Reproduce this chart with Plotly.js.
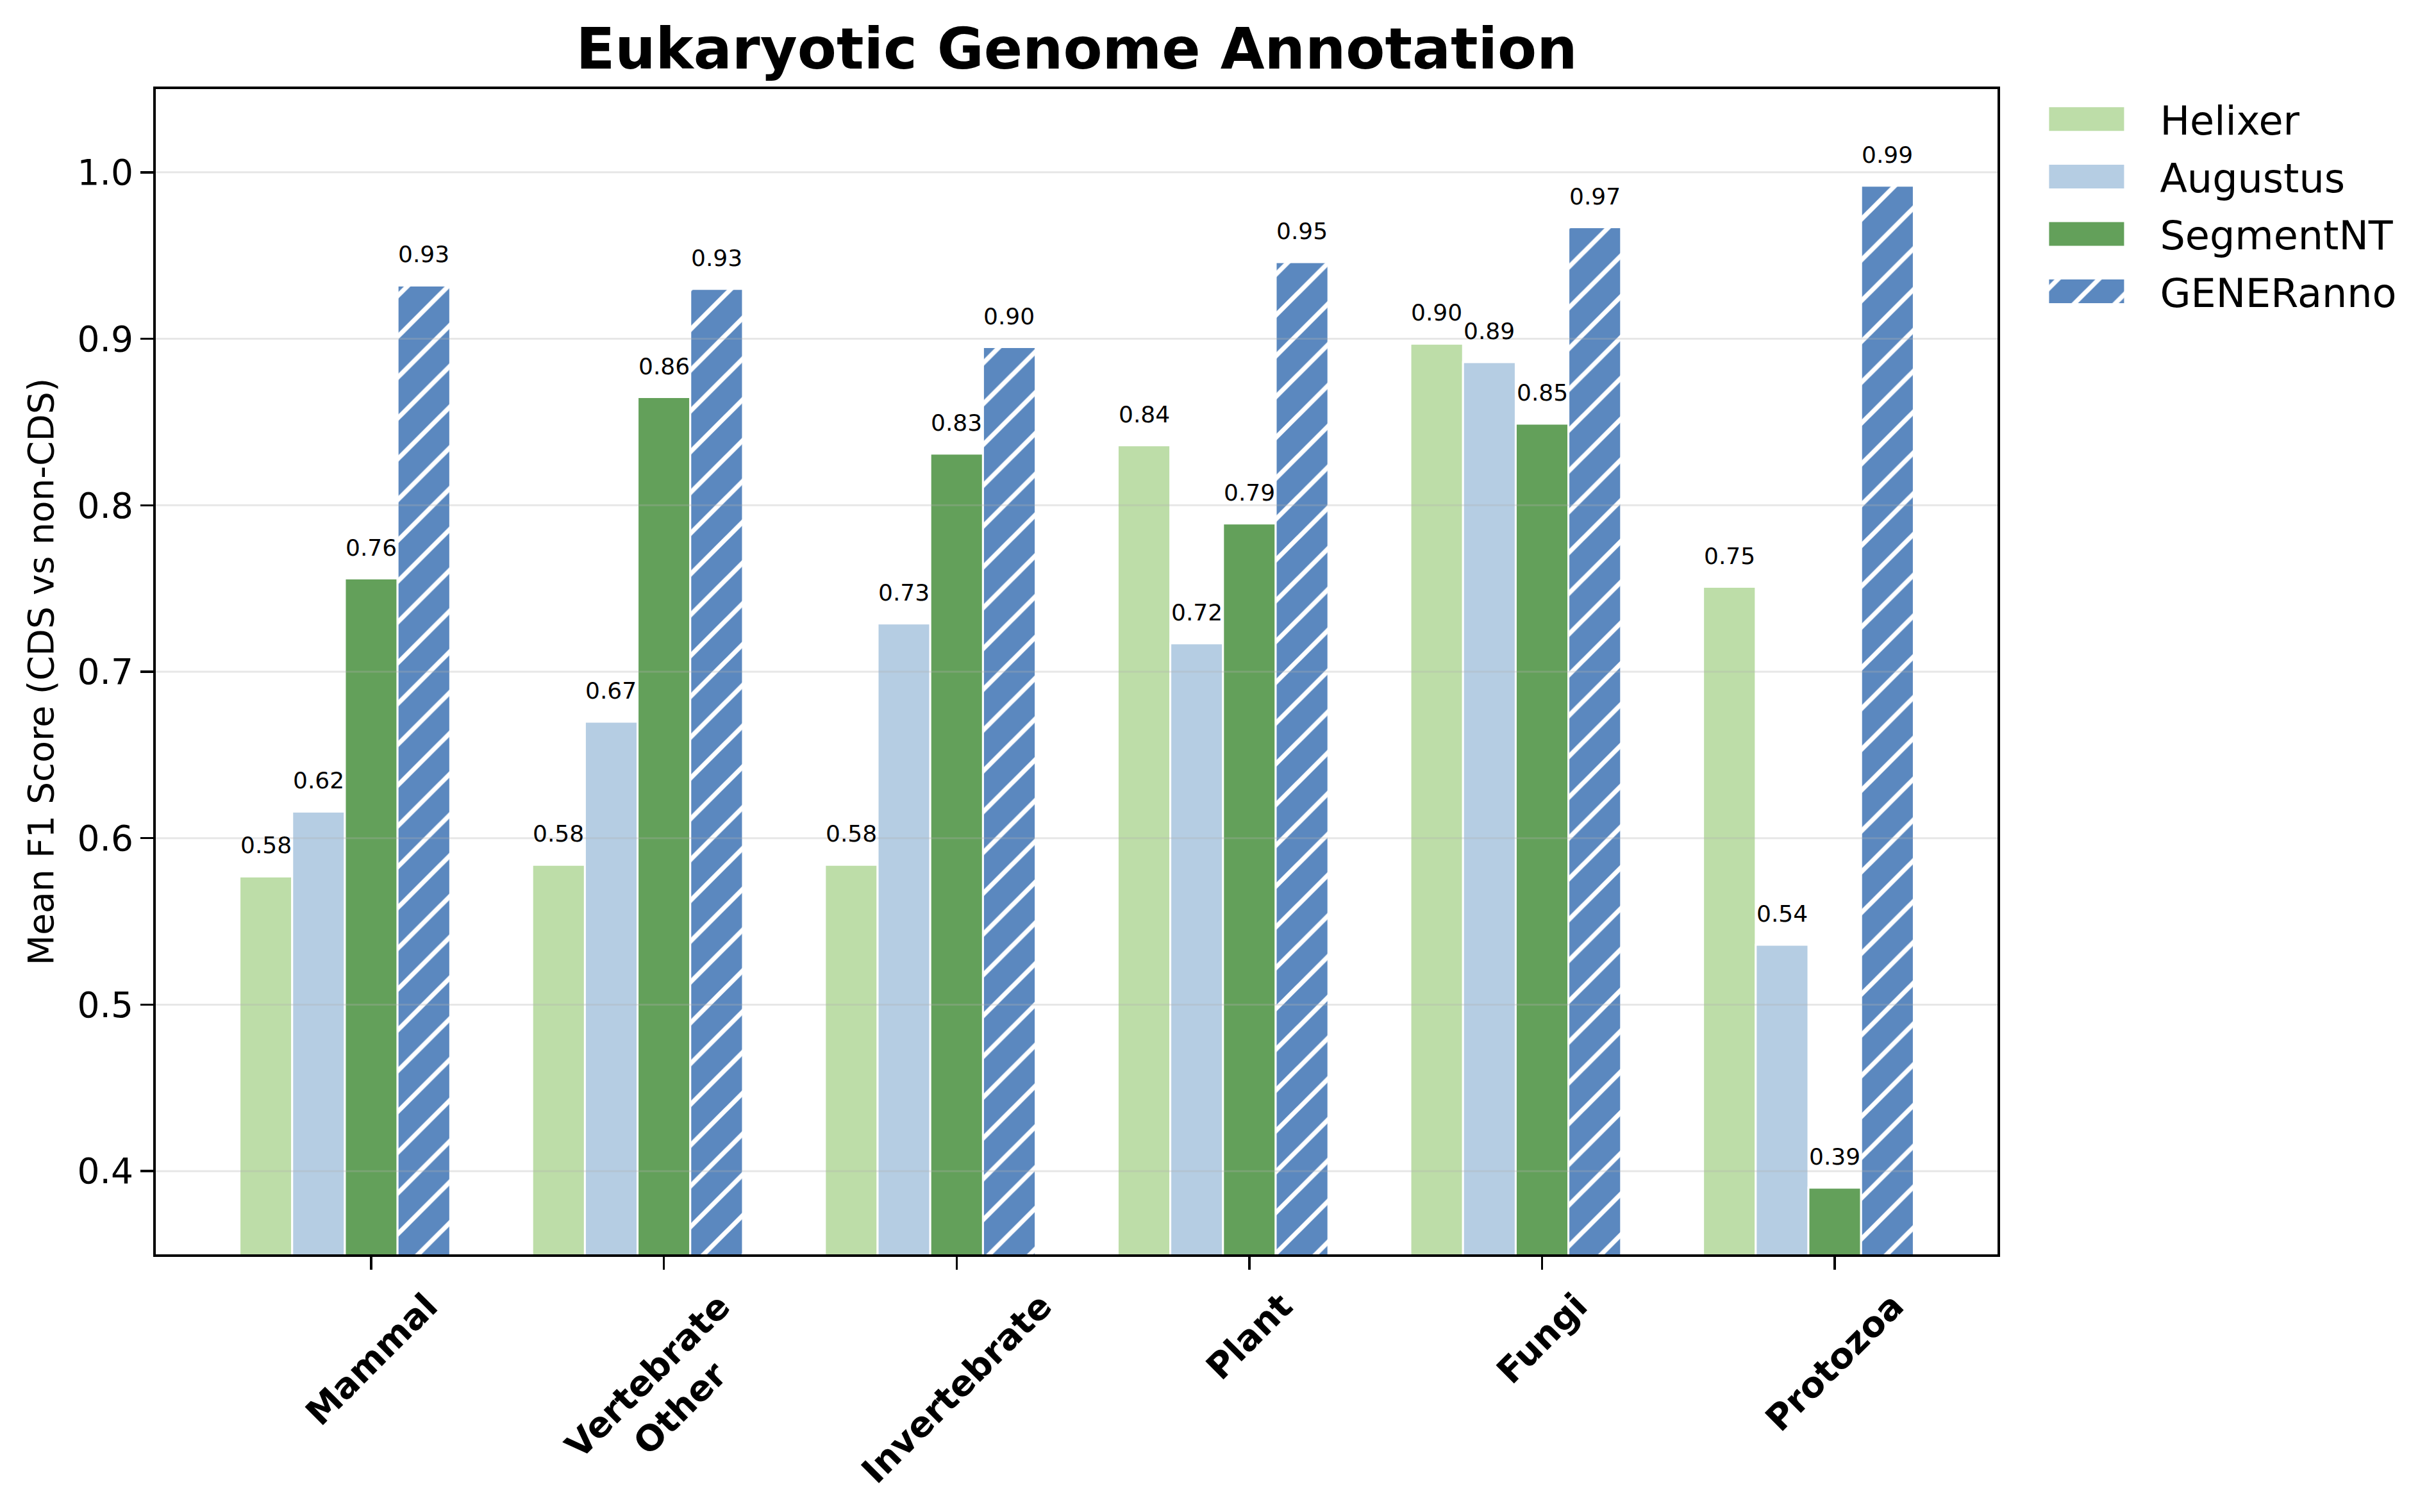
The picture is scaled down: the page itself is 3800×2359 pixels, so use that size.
<!DOCTYPE html>
<html>
<head>
<meta charset="utf-8">
<script src="https://cdn.plot.ly/plotly-3.0.1.min.js"></script>
<style>
  body { margin: 0; background: #ffffff; }
</style>
</head>
<body>
<div id="myDiv"></div>
<script>
const categories = ['Mammal', 'Vertebrate Other', 'Invertebrate', 'Plant', 'Fungi', 'Protozoa'];
const tickLabels = ['Mammal', 'Vertebrate<br>Other', 'Invertebrate', 'Plant', 'Fungi', 'Protozoa'];
const methods = ['Helixer', 'Augustus', 'SegmentNT', 'GENERanno'];

const helixer = [0.577, 0.584, 0.584, 0.836, 0.897, 0.751];
const augustus = [0.616, 0.670, 0.729, 0.717, 0.886, 0.536];
const segmentNT = [0.756, 0.865, 0.831, 0.789, 0.849, 0.390];
const generanno = [0.932, 0.930, 0.895, 0.946, 0.967, 0.992];

const yTicks = [0.4, 0.5, 0.6, 0.7, 0.8, 0.9, 1.0];

const colors = ['#bdddA8', '#b5cde3', '#63a05a', '#5b88bf'];
const series = [helixer, augustus, segmentNT, generanno];
const barWidth = 0.18;
const font = 'DejaVu Sans, Verdana, sans-serif';

let traces = [];
let annotations = [];
let shapes = [];

for (let i = 0; i < methods.length; i++) {
  let marker = {
    color: colors[i],
    line: {color: '#ffffff', width: 3}
  };
  if (methods[i] === 'GENERanno') {
    marker.pattern = {shape: '/', fgcolor: '#ffffff', fgopacity: 1, fillmode: 'overlay', size: 45, solidity: 0.16};
  }
  traces.push({
    type: 'bar',
    name: methods[i],
    x: categories,
    y: series[i],
    width: barWidth,
    offset: (i - 2.5) * barWidth,
    marker: marker,
    legendgroup: methods[i],
    hoverinfo: 'skip'
  });

  // value labels above the bars
  series[i].forEach((v, j) => {
    annotations.push({
      x: j + (i - 2) * barWidth,
      y: v + 0.01,
      xref: 'x',
      yref: 'y',
      text: v.toFixed(2),
      showarrow: false,
      xanchor: 'center',
      yanchor: 'bottom',
      font: {family: font, size: 36, color: '#000000'}
    });
  });
}

// rotated category labels, centred under each tick like the original
tickLabels.forEach((label, j) => {
  annotations.push({
    x: j,
    y: -0.025,
    xref: 'x',
    yref: 'paper',
    text: '<b>' + label + '</b>',
    showarrow: false,
    textangle: -45,
    align: 'center',
    xanchor: 'center',
    yanchor: 'top',
    font: {family: font, size: 55, color: '#000000'}
  });
});

// grid drawn over the bars, light grey
yTicks.forEach((t) => {
  shapes.push({
    type: 'line',
    xref: 'paper', yref: 'y',
    x0: 0, x1: 1, y0: t, y1: t,
    layer: 'above',
    line: {color: 'rgba(176,176,176,0.3)', width: 3}
  });
});

const layout = {
  width: 3800,
  height: 2359,
  margin: {l: 243, r: 684, t: 139, b: 402},
  paper_bgcolor: '#ffffff',
  plot_bgcolor: '#ffffff',
  barmode: 'overlay',
  title: {
    text: '<b>Eukaryotic Genome Annotation</b>',
    font: {family: font, size: 89, color: '#000000'},
    xref: 'paper',
    x: 0.5,
    xanchor: 'center',
    yref: 'container',
    y: 0.968,
    yanchor: 'middle'
  },
  xaxis: {
    type: 'category',
    range: [-0.736, 5.556],
    showgrid: false,
    zeroline: false,
    showline: true,
    mirror: true,
    linecolor: '#000000',
    linewidth: 4,
    ticks: 'outside',
    ticklen: 20,
    tickwidth: 3.5,
    tickcolor: '#000000',
    showticklabels: false
  },
  yaxis: {
    range: [0.35, 1.05],
    tickvals: yTicks,
    tickformat: '.1f',
    showgrid: false,
    zeroline: false,
    showline: true,
    mirror: true,
    linecolor: '#000000',
    linewidth: 4,
    ticks: 'outside',
    ticklen: 20,
    tickwidth: 3.5,
    tickcolor: '#000000',
    tickfont: {family: font, size: 55, color: '#000000'},
    title: {
      text: 'Mean F1 Score (CDS vs non-CDS)',
      font: {family: font, size: 55, color: '#000000'},
      standoff: 20
    }
  },
  legend: {
    x: 1.0085,
    xanchor: 'left',
    y: 1,
    yanchor: 'top',
    itemwidth: 219,
    tracegroupgap: 6,
    bgcolor: 'rgba(0,0,0,0)',
    borderwidth: 0,
    font: {family: font, size: 62, color: '#000000'}
  },
  annotations: annotations,
  shapes: shapes,
  showlegend: true
};

// make the legend swatches wide rectangles like the original
function widenSwatches() {
  const gd = document.getElementById('myDiv');
  const barPaths = gd.querySelectorAll('.barlayer .trace');
  let hatchFill = null;
  if (barPaths.length === 4) {
    const p = barPaths[3].querySelector('path');
    if (p) hatchFill = p.style.fill;
  }
  gd.querySelectorAll('.legend .legendpoints path').forEach((p) => {
    p.setAttribute('d', 'M58.5,18.5H-58.5V-18.5H58.5Z');
    p.style.strokeWidth = '0';
  });
  const groups = gd.querySelectorAll('.legend .traces');
  if (hatchFill && groups.length === 4) {
    const last = groups[3].querySelector('.legendpoints path');
    if (last) last.style.fill = hatchFill;
  }
}

Plotly.newPlot('myDiv', traces, layout, {staticPlot: true}).then(() => {
  widenSwatches();
  setTimeout(widenSwatches, 50);
});
</script>
</body>
</html>
